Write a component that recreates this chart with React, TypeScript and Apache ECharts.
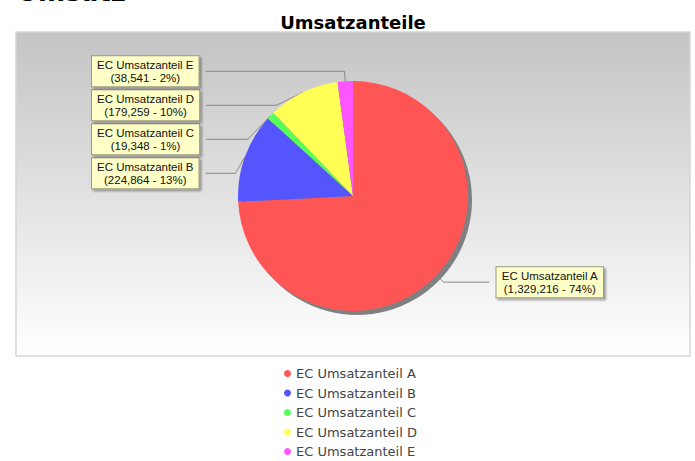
import React, { useEffect, useRef } from "react";
import * as echarts from "echarts";

const categories = [
  "EC Umsatzanteil A",
  "EC Umsatzanteil B",
  "EC Umsatzanteil C",
  "EC Umsatzanteil D",
  "EC Umsatzanteil E",
];
const values = [1329216, 224864, 19348, 179259, 38541];
const colors = ["#ff5555", "#5555ff", "#55ff55", "#ffff55", "#ff55ff"];
const chartTitle = "Umsatzanteile";
const pageHeading = "Umsatz";

function fmt(n: number): string {
  return n.toString().replace(/\B(?=(\d{3})+(?!\d))/g, ",");
}

export default function App() {
  const ref = useRef<HTMLDivElement>(null);
  useEffect(() => {
    if (!ref.current) return;
    const chart = echarts.init(ref.current, undefined, { renderer: "svg" });
    const font = "'Liberation Sans', Arial, sans-serif";
    chart.setOption({
      animation: false,
      backgroundColor: "#ffffff",
      title: {
        text: chartTitle,
        left: 348,
        textAlign: "center",
        top: 8,
        textStyle: { fontFamily: "'DejaVu Sans', sans-serif", fontWeight: "bold", fontSize: 18, color: "#000" },
      },
      graphic: [
        {
          type: "text",
          left: 17,
          top: -21,
          z: 10,
          style: { text: pageHeading, fontFamily: "'DejaVu Sans', sans-serif", fontWeight: "bold", fontSize: 26, fill: "#000" },
        },
        {
          type: "rect",
          z: -10,
          shape: { x: 16, y: 32, width: 674, height: 324 },
          style: {
            fill: new echarts.graphic.LinearGradient(0, 0, 0, 1, [
              { offset: 0, color: "#c4c4c4" },
              { offset: 1, color: "#ffffff" },
            ]),
            stroke: "#d6d6d6",
            lineWidth: 1.5,
          },
        },
      ],
      legend: {
        orient: "vertical",
        left: 284,
        top: 367,
        padding: 0,
        itemGap: 6.5,
        itemWidth: 7,
        itemHeight: 7,
        icon: "circle",
        data: categories,
        textStyle: { fontFamily: "'DejaVu Sans', sans-serif", fontSize: 13, lineHeight: 13, color: "#444" },
      },
      series: [
        {
          type: "pie",
          silent: true,
          center: [357, 200],
          radius: 115,
          startAngle: 90,
          clockwise: true,
          z: 1,
          label: { show: false },
          labelLine: { show: false },
          data: [{ value: 1, name: "__shadow", itemStyle: { color: "#808080" } }],
        },
        {
          type: "pie",
          center: [353, 196],
          radius: 115,
          startAngle: 90,
          clockwise: true,
          z: 2,
          avoidLabelOverlap: true,
          itemStyle: { borderWidth: 0 },
          data: categories.map((c, i) => ({ name: c, value: values[i], itemStyle: { color: colors[i] } })),
          label: {
            show: true,
            position: "outside",
            alignTo: "edge",
            edgeDistance: 92,
            formatter: (p: any) => `{c|${p.name}}\n{c|(${fmt(p.value)} - ${Math.round(p.percent)}%)}`,
            rich: {
              c: {
                align: "center",
                fontFamily: font,
                fontSize: 11.5,
                lineHeight: 13,
                color: "#111",
              },
            },
            fontFamily: font,
            fontSize: 11.5,
            lineHeight: 13,
            color: "#111",
            backgroundColor: "#ffffc8",
            borderColor: "#9a9a80",
            borderWidth: 1,
            padding: [2, 5],
            shadowColor: "rgba(0,0,0,0.35)",
            shadowOffsetX: 2,
            shadowOffsetY: 2,
            shadowBlur: 2,
          },
          labelLine: {
            show: true,
            length: 10,
            length2: 20,
            lineStyle: { color: "#888", width: 1 },
          },
        },
      ],
    });
    return () => chart.dispose();
  }, []);
  return <div ref={ref} style={{ position: "fixed", left: 0, top: 0, width: 695, height: 461 }} />;
}
